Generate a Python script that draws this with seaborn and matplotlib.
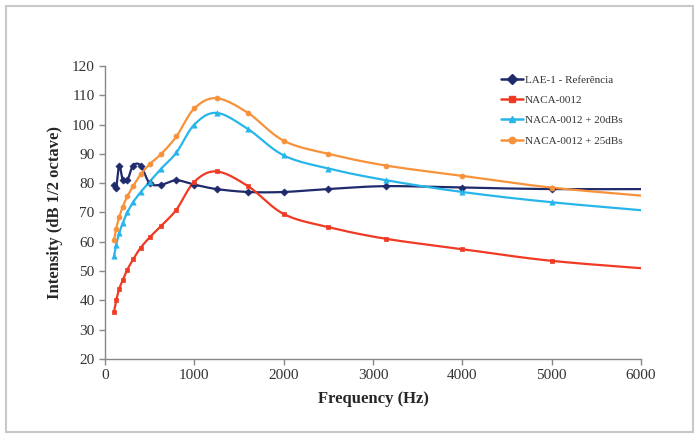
import numpy as np
import pandas as pd
import seaborn as sns
import matplotlib
matplotlib.use("Agg")
import matplotlib.pyplot as plt
from matplotlib.patches import Rectangle

freqs = [100, 125, 160, 200, 250, 315, 400, 500, 630, 800, 1000, 1250,
         1600, 2000, 2500, 3150, 4000, 5000, 6300]
lae1 = [79.5, 78.5, 86, 81, 81, 86, 86, 80, 79.5, 81, 79.5, 78,
        77, 77, 78, 79, 78.5, 78, 78]
naca = [36, 40, 44, 47, 50.5, 54, 58, 61.5, 65.5, 71, 80.5, 84,
        79, 69.5, 65, 61, 57.5, 53.5, 50.3]
naca20 = [55, 59, 63, 66.5, 70, 73.5, 77, 80.5, 85, 90.5, 100, 104,
          98.5, 89.5, 85, 81, 77, 73.5, 70]
naca25 = [60.5, 64.5, 68.5, 72, 75.5, 79, 83, 86.5, 90, 96, 105.5, 109,
          104, 94.5, 90, 86, 82.5, 78.5, 75]
series_names = ["LAE-1 - Referência", "NACA-0012", "NACA-0012 + 20dBs", "NACA-0012 + 25dBs"]
series_vals = [lae1, naca, naca20, naca25]
colors = ["#1f2a6b", "#f03a24", "#28b6ea", "#f7923a"]
markers = ["D", "s", "^", "o"]
msizes = [3.6, 3.2, 3.8, 3.6]
marker_max_freq = 5000

sns.set_style("white")
plt.rcParams["font.family"] = ["Liberation Serif", "DejaVu Serif"]

fig = plt.figure(figsize=(6.99, 4.38), dpi=100)
fig.patches.append(Rectangle((6/699, 6/438), 687/699, 426/438, transform=fig.transFigure,
                             fill=False, edgecolor="#c8c8c8", linewidth=1.5))
ax = fig.add_axes([105/699, 1 - 359/438, 536/699, 293/438])


def smooth(x, y, n=24):
    # Catmull-Rom style smoothing (as in spreadsheet "smoothed line")
    x = np.asarray(x, float); y = np.asarray(y, float)
    px = np.concatenate([[2*x[0]-x[1]], x, [2*x[-1]-x[-2]]])
    py = np.concatenate([[2*y[0]-y[1]], y, [2*y[-1]-y[-2]]])
    xs, ys = [], []
    t = np.linspace(0, 1, n)
    for i in range(1, len(px) - 2):
        p0, p1, p2, p3 = (np.array([px[j], py[j]]) for j in range(i-1, i+3))
        c1 = p1 + (p2 - p0) / 6
        c2 = p2 - (p3 - p1) / 6
        b = ((1-t)**3)[:, None]*p1 + (3*(1-t)**2*t)[:, None]*c1 + (3*(1-t)*t**2)[:, None]*c2 + (t**3)[:, None]*p2
        xs.extend(b[:, 0]); ys.extend(b[:, 1])
    return np.array(xs), np.array(ys)


for name, vals, c, m, ms in zip(series_names, series_vals, colors, markers, msizes):
    sx, sy = smooth(freqs, vals)
    ax.plot(sx, sy, color=c, lw=1.6, zorder=2)
    df = pd.DataFrame({"f": freqs, "v": vals})
    df = df[df.f <= marker_max_freq]
    sns.scatterplot(data=df, x="f", y="v", ax=ax, color=c, marker=m, s=ms**2,
                    edgecolor=c, linewidth=0.5, zorder=3)
    ax.plot([], [], color=c, lw=1.8, marker=m, markersize=ms + 1, label=name)

ax.set_xlim(0, 6000)
ax.set_ylim(20, 120)
ax.set_xticks(range(0, 6001, 1000))
ax.set_yticks(range(20, 121, 10))
ax.set_xlabel("Frequency (Hz)", fontsize=12, fontweight="bold", labelpad=6)
ax.set_ylabel("Intensity (dB 1/2 octave)", fontsize=12, fontweight="bold", labelpad=6)
for s in ["top", "right"]:
    ax.spines[s].set_visible(False)
for s in ["left", "bottom"]:
    ax.spines[s].set_color("#888888")
    ax.spines[s].set_linewidth(1.0)
ax.tick_params(axis="both", direction="out", length=4, width=1, color="#888888",
               labelsize=11, labelcolor="#333333", left=True, bottom=True)

leg = ax.legend(loc="upper left", bbox_to_anchor=(0.73, 0.985), frameon=False,
                fontsize=8, handlelength=2.0, handletextpad=0.2, labelspacing=0.95,
                borderaxespad=0)
for t in leg.get_texts():
    t.set_color("#333333")

fig.savefig("out.png", dpi=100)
